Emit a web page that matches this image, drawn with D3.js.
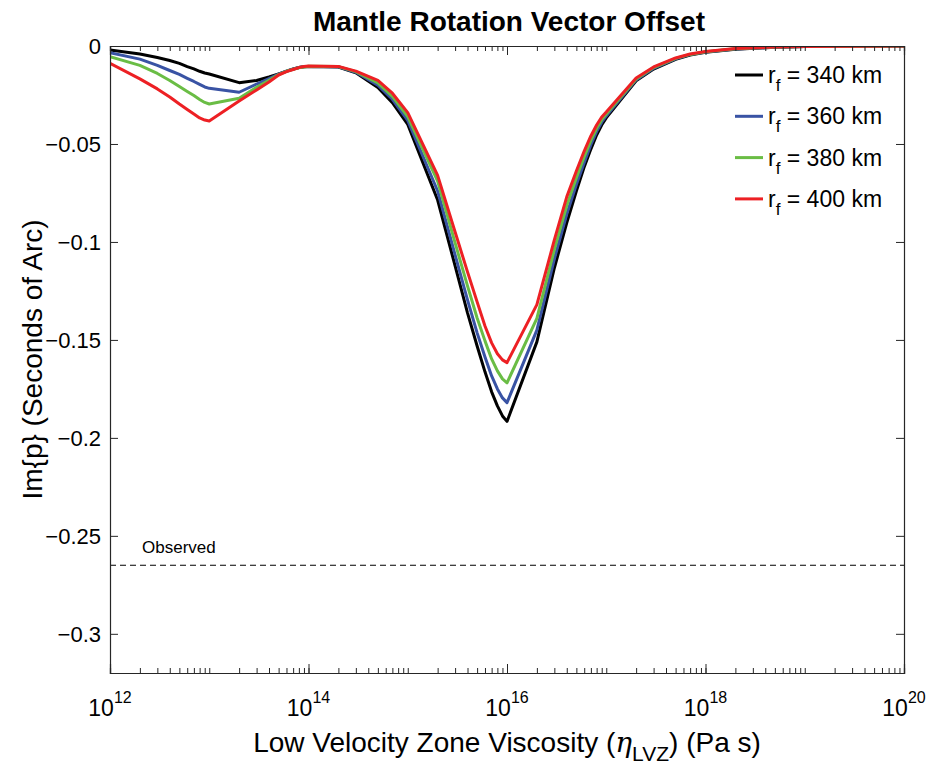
<!DOCTYPE html>
<html>
<head>
<meta charset="utf-8">
<script src="https://cdn.jsdelivr.net/npm/d3@7"></script>
<style>
  body { margin: 0; background: #fff; }
  text { font-family: "Liberation Sans", Arial, Helvetica, sans-serif; fill: #000; }
</style>
</head>
<body>
<div id="chart"></div>
<script>
// viscosity samples (Pa s)
const viscosity = [
  1e12, 2e12, 3e12, 4e12, 5e12, 6e12, 7e12, 8e12, 9e12,
  1e13, 2e13, 3e13, 4e13, 5e13, 6e13, 7e13, 8e13, 9e13,
  1e14, 2e14, 3e14, 5e14, 7e14,
  1e15, 2e15, 3e15, 4e15, 5e15, 6e15, 7e15, 8e15, 9e15,
  1e16, 2e16, 3e16, 4e16, 5e16, 6e16, 7e16, 8e16, 9e16,
  1e17, 2e17, 3e17, 5e17, 7e17,
  1e18, 2e18, 5e18,
  1e19, 1e20];

// Im{p}, seconds of arc, one array per r_f
const im340 = [
  -0.0020, -0.0041, -0.0059, -0.0074, -0.0089, -0.0105, -0.0117, -0.0129, -0.0138,
  -0.0143, -0.0187, -0.0176, -0.0158, -0.0142, -0.0128, -0.0117, -0.0110, -0.0106,
  -0.0105, -0.0107, -0.0137, -0.0212, -0.0289,
  -0.0400, -0.0786, -0.1122, -0.1362, -0.1531, -0.1663, -0.1765, -0.1837, -0.1888,
  -0.1916, -0.1510, -0.1133, -0.0903, -0.0740, -0.0617, -0.0526, -0.0454, -0.0403,
  -0.0367, -0.0178, -0.0118, -0.0068, -0.0046,
  -0.0032, -0.0017, -0.0006,
  -0.0003, 0];
const im360 = [
  -0.0034, -0.0067, -0.0099, -0.0125, -0.0145, -0.0165, -0.0181, -0.0196, -0.0209,
  -0.0216, -0.0236, -0.0194, -0.0166, -0.0144, -0.0129, -0.0118, -0.0110, -0.0106,
  -0.0104, -0.0106, -0.0134, -0.0200, -0.0272,
  -0.0380, -0.0740, -0.1066, -0.1296, -0.1464, -0.1587, -0.1684, -0.1750, -0.1796,
  -0.1820, -0.1450, -0.1086, -0.0858, -0.0707, -0.0594, -0.0504, -0.0437, -0.0389,
  -0.0357, -0.0173, -0.0114, -0.0066, -0.0044,
  -0.0031, -0.0015, -0.0006,
  -0.0003, 0];
const im380 = [
  -0.0055, -0.0099, -0.0140, -0.0176, -0.0207, -0.0232, -0.0253, -0.0273, -0.0288,
  -0.0296, -0.0267, -0.0211, -0.0175, -0.0146, -0.0129, -0.0119, -0.0111, -0.0107,
  -0.0103, -0.0105, -0.0131, -0.0188, -0.0257,
  -0.0360, -0.0690, -0.1005, -0.1224, -0.1388, -0.1505, -0.1597, -0.1658, -0.1699,
  -0.1719, -0.1390, -0.1038, -0.0814, -0.0672, -0.0565, -0.0482, -0.0420, -0.0376,
  -0.0347, -0.0168, -0.0110, -0.0063, -0.0043,
  -0.0029, -0.0014, -0.0005,
  -0.0002, 0];
const im400 = [
  -0.0088, -0.0168, -0.0219, -0.0260, -0.0296, -0.0324, -0.0347, -0.0367, -0.0378,
  -0.0383, -0.0281, -0.0224, -0.0184, -0.0148, -0.0131, -0.0120, -0.0110, -0.0105,
  -0.0102, -0.0104, -0.0128, -0.0176, -0.0241,
  -0.0340, -0.0660, -0.0949, -0.1153, -0.1306, -0.1429, -0.1515, -0.1571, -0.1602,
  -0.1616, -0.1320, -0.0990, -0.0770, -0.0638, -0.0536, -0.0459, -0.0403, -0.0362,
  -0.0337, -0.0163, -0.0107, -0.0061, -0.0041,
  -0.0028, -0.0013, -0.0005,
  -0.0002, 0];

const radii = ["340", "360", "380", "400"];
const colors = ["#000000", "#3953a4", "#6abd45", "#ed2024"];
const yTicks = [0, -0.05, -0.1, -0.15, -0.2, -0.25, -0.3];
const xTickExps = [12, 14, 16, 18, 20];
const observed = -0.265;

const series = [im340, im360, im380, im400].map((vals, i) => ({
  name: radii[i], color: colors[i],
  points: vals.map((v, j) => [viscosity[j], v])
}));

const svgWidth = 933, svgHeight = 770;
const margin = { top: 46, right: 29, bottom: 97, left: 110 };
const chartWidth = svgWidth - margin.left - margin.right;
const chartHeight = svgHeight - margin.top - margin.bottom;

const svg = d3.select("#chart").append("svg")
  .attr("width", svgWidth).attr("height", svgHeight);
const g = svg.append("g")
  .attr("transform", `translate(${margin.left},${margin.top})`);

const x = d3.scaleLog().domain([1e12, 1e20]).range([0, chartWidth]);
const y = d3.scaleLinear().domain([-0.32, 0]).range([chartHeight, 0]);

g.append("clipPath").attr("id", "clip")
  .append("rect").attr("width", chartWidth).attr("height", chartHeight);

// observed level
g.append("line")
  .attr("x1", 0).attr("x2", chartWidth)
  .attr("y1", y(observed)).attr("y2", y(observed))
  .attr("stroke", "#000").attr("stroke-width", 1.2)
  .attr("stroke-dasharray", "6,4");
g.append("text")
  .attr("x", 32).attr("y", y(observed) - 12)
  .style("font-size", "17px")
  .text("Observed");

const line = d3.line()
  .x(d => x(d[0]))
  .y(d => y(d[1]));

g.append("g").attr("clip-path", "url(#clip)")
  .selectAll("path").data(series).join("path")
  .attr("d", d => line(d.points))
  .attr("fill", "none")
  .attr("stroke", d => d.color)
  .attr("stroke-width", 3)
  .attr("stroke-linejoin", "round");

// axes, MATLAB style: ticks inside, box around
const axisColor = "#262626";
const minorTicks = [];
for (let e = 12; e < 20; e++) for (let k = 1; k <= 9; k++) minorTicks.push(k * Math.pow(10, e));
const majorX = xTickExps.map(e => Math.pow(10, e));

g.append("g").attr("transform", `translate(0,${chartHeight})`)
  .call(d3.axisBottom(x).tickValues(minorTicks).tickSize(-5).tickFormat(""));
g.append("g")
  .call(d3.axisTop(x).tickValues(minorTicks).tickSize(-5).tickFormat(""));
g.append("g").attr("transform", `translate(0,${chartHeight})`)
  .call(d3.axisBottom(x).tickValues(majorX).tickSize(-9).tickFormat(""));
g.append("g")
  .call(d3.axisTop(x).tickValues(majorX).tickSize(-9).tickFormat(""));

g.append("g").call(d3.axisLeft(y).tickValues(yTicks).tickSize(-8).tickFormat(""));
g.append("g").attr("transform", `translate(${chartWidth},0)`)
  .call(d3.axisRight(y).tickValues(yTicks).tickSize(-8).tickFormat(""));

g.selectAll(".domain").attr("stroke", axisColor).attr("stroke-width", 1.2);
g.selectAll(".tick line").attr("stroke", axisColor).attr("stroke-width", 1);

// y tick labels
g.selectAll(".ylab").data(yTicks).join("text")
  .attr("class", "ylab")
  .attr("x", -9).attr("y", d => y(d) + 8)
  .attr("text-anchor", "end")
  .style("font-size", "22px")
  .text(d => d === 0 ? "0" : "\u2212" + String(Math.abs(d)));

// x tick labels with superscript exponents
const xl = g.selectAll(".xlab").data(xTickExps).join("text")
  .attr("class", "xlab")
  .attr("x", d => x(Math.pow(10, d)))
  .attr("y", chartHeight + 43)
  .attr("text-anchor", "middle")
  .style("font-size", "23px");
xl.append("tspan").text("10");
xl.append("tspan").attr("dy", -13).style("font-size", "16px").text(d => d);

// title
svg.append("text")
  .attr("x", margin.left + chartWidth / 2 + 2).attr("y", 31)
  .attr("text-anchor", "middle")
  .style("font-size", "28px").style("font-weight", "bold")
  .text("Mantle Rotation Vector Offset");

// x axis label
const xt = svg.append("text")
  .attr("x", margin.left + chartWidth / 2).attr("y", 752)
  .attr("text-anchor", "middle")
  .style("font-size", "28px");
xt.append("tspan").text("Low Velocity Zone Viscosity (");
xt.append("tspan").style("font-family", "'DejaVu Serif', serif").style("font-style", "italic").text("\u03B7");
xt.append("tspan").attr("dy", 9).style("font-size", "21px").text("LVZ");
xt.append("tspan").attr("dy", -9).text(") (Pa s)");

// y axis label
svg.append("text")
  .attr("transform", `translate(42,${margin.top + chartHeight / 2}) rotate(-90)`)
  .attr("text-anchor", "middle")
  .style("font-size", "28px")
  .text("Im{p} (Seconds of Arc)");

// legend
const legend = svg.append("g").attr("transform", "translate(735,75)");
const item = legend.selectAll("g").data(series).join("g")
  .attr("transform", (d, i) => `translate(0,${i * 41.3})`);
item.append("line")
  .attr("x1", 0).attr("x2", 28).attr("y1", 0).attr("y2", 0)
  .attr("stroke", d => d.color).attr("stroke-width", 3);
const lt = item.append("text").attr("x", 33).attr("y", 8).style("font-size", "23px");
lt.append("tspan").text("r");
lt.append("tspan").attr("dy", 8).style("font-size", "17px").text("f");
lt.append("tspan").attr("dy", -8).text(d => ` = ${d.name} km`);
</script>
</body>
</html>
